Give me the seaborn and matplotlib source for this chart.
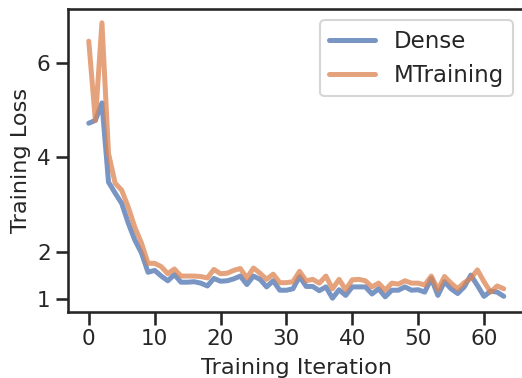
import numpy as np
import pandas as pd
import matplotlib
matplotlib.use("Agg")
import matplotlib.pyplot as plt
import seaborn as sns

# Per-iteration training loss for the two runs
iterations = list(range(64))
dense_loss = [
    4.72, 4.78, 5.15, 3.47, 3.24, 3.02, 2.60, 2.24, 1.97, 1.56,
    1.60, 1.48, 1.38, 1.51, 1.35, 1.35, 1.36, 1.33, 1.27, 1.43,
    1.37, 1.38, 1.42, 1.48, 1.30, 1.48, 1.41, 1.25, 1.38, 1.18,
    1.18, 1.21, 1.47, 1.26, 1.26, 1.17, 1.25, 1.01, 1.19, 1.07,
    1.25, 1.25, 1.25, 1.10, 1.21, 1.04, 1.18, 1.18, 1.25, 1.18,
    1.19, 1.14, 1.43, 1.07, 1.36, 1.21, 1.11, 1.25, 1.50, 1.28,
    1.05, 1.16, 1.14, 1.05,
]
mtraining_loss = [
    6.46, 4.78, 6.85, 4.08, 3.45, 3.30, 2.94, 2.51, 2.18, 1.75,
    1.75, 1.68, 1.53, 1.63, 1.48, 1.48, 1.48, 1.47, 1.44, 1.62,
    1.53, 1.54, 1.60, 1.64, 1.44, 1.65, 1.54, 1.41, 1.52, 1.34,
    1.34, 1.36, 1.58, 1.38, 1.41, 1.33, 1.48, 1.21, 1.41, 1.19,
    1.40, 1.41, 1.38, 1.25, 1.33, 1.18, 1.33, 1.31, 1.38, 1.33,
    1.33, 1.29, 1.48, 1.19, 1.47, 1.33, 1.21, 1.34, 1.43, 1.61,
    1.36, 1.14, 1.27, 1.21,
]
series_names = ["Dense", "MTraining"]
y_ticks = [1, 2, 4, 6]

df = pd.DataFrame({
    "Training Iteration": iterations * 2,
    "Training Loss": dense_loss + mtraining_loss,
    "Method": [series_names[0]] * len(iterations) + [series_names[1]] * len(iterations),
})

sns.set_theme(style="ticks", context="talk")
plt.rcParams["font.family"] = ["DejaVu Sans"]

fig = plt.figure(figsize=(5.22, 3.78), dpi=100)
ax = fig.add_axes([0.1303, 0.1746, 0.8745, 0.8016])

sns.lineplot(
    data=df, x="Training Iteration", y="Training Loss", hue="Method",
    hue_order=series_names, palette="deep", linewidth=3.6, alpha=0.75, ax=ax,
)

ax.set_yticks(y_ticks)
ax.set_yticklabels([str(t) for t in y_ticks])
ax.tick_params(axis="both", labelsize=15.5)
ax.set_xlabel("Training Iteration", fontsize=16.2, labelpad=6)
ax.set_ylabel("Training Loss", fontsize=16.2)

leg = ax.legend(loc="upper right", fontsize=16.5, title=None)
for line in leg.get_lines():
    line.set_linewidth(3.6)

fig.savefig("out.png", dpi=100)
